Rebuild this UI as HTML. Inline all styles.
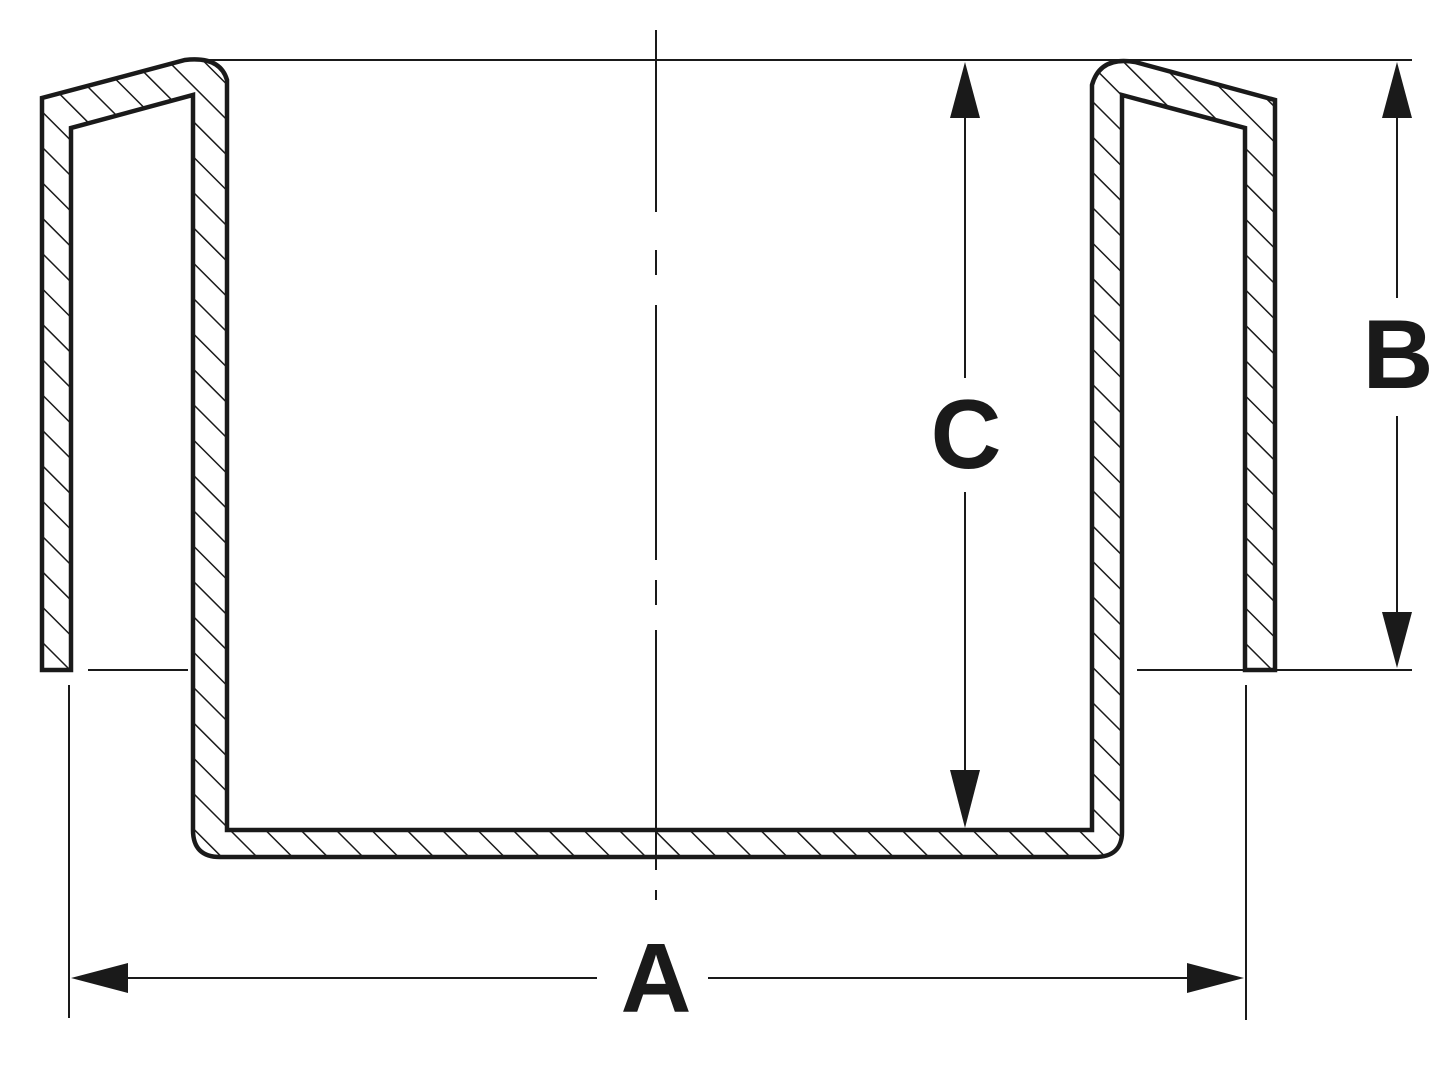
<!DOCTYPE html>
<html><head><meta charset="utf-8"><style>
html,body{margin:0;padding:0;background:#fff}
svg{display:block}
text{font-family:"Liberation Sans",sans-serif;font-weight:bold;fill:#1a1a1a}
</style></head><body>
<svg width="1440" height="1080" viewBox="0 0 1440 1080" xmlns="http://www.w3.org/2000/svg">
<defs>
<pattern id="h" width="25" height="25" patternUnits="userSpaceOnUse" patternTransform="rotate(-45)">
<line x1="0" y1="0" x2="0" y2="25" stroke="#1a1a1a" stroke-width="3"/>
</pattern>
</defs>
<g stroke="#1a1a1a" fill="none">
<path d="M42,670 L42,98 L185,60 Q220,56 227,80 L227,830 L1092,830 L1092,85 Q1100,56 1135,62 L1275,100 L1275,670 L1245,670 L1245,128 L1122,95 L1122,832 Q1122,857 1095,857 L220,857 Q193,857 193,830 L193,95 L71,128 L71,670 Z" fill="url(#h)" stroke-width="4.5" stroke-linejoin="miter"/>
<g stroke-width="2">
<line x1="200" y1="60" x2="1412" y2="60"/>
<line x1="88" y1="670" x2="188" y2="670"/>
<line x1="1137" y1="670" x2="1412" y2="670"/>
<line x1="69" y1="685" x2="69" y2="1018"/>
<line x1="1246" y1="685" x2="1246" y2="1020"/>
<line x1="656" y1="30" x2="656" y2="900" stroke-dasharray="182,38,25,30,255,20,25,25,240,20,25,25,250"/>
<line x1="965" y1="100" x2="965" y2="378"/>
<line x1="965" y1="492" x2="965" y2="790"/>
<line x1="1397" y1="100" x2="1397" y2="298"/>
<line x1="1397" y1="416" x2="1397" y2="630"/>
<line x1="110" y1="978" x2="597" y2="978"/>
<line x1="708" y1="978" x2="1205" y2="978"/>
</g>
</g>
<g fill="#1a1a1a">
<path d="M965,62 L950,118 L980,118 Z"/>
<path d="M965,828 L950,770 L980,770 Z"/>
<path d="M1397,62 L1382,118 L1412,118 Z"/>
<path d="M1397,668 L1382,612 L1412,612 Z"/>
<path d="M71,978 L128,963 L128,993 Z"/>
<path d="M1244,978 L1187,963 L1187,993 Z"/>
</g>
<text x="966" y="468" font-size="98" text-anchor="middle">C</text>
<text x="1398" y="388" font-size="98" text-anchor="middle">B</text>
<text x="656" y="1012" font-size="98" text-anchor="middle">A</text>
</svg>
</body></html>
